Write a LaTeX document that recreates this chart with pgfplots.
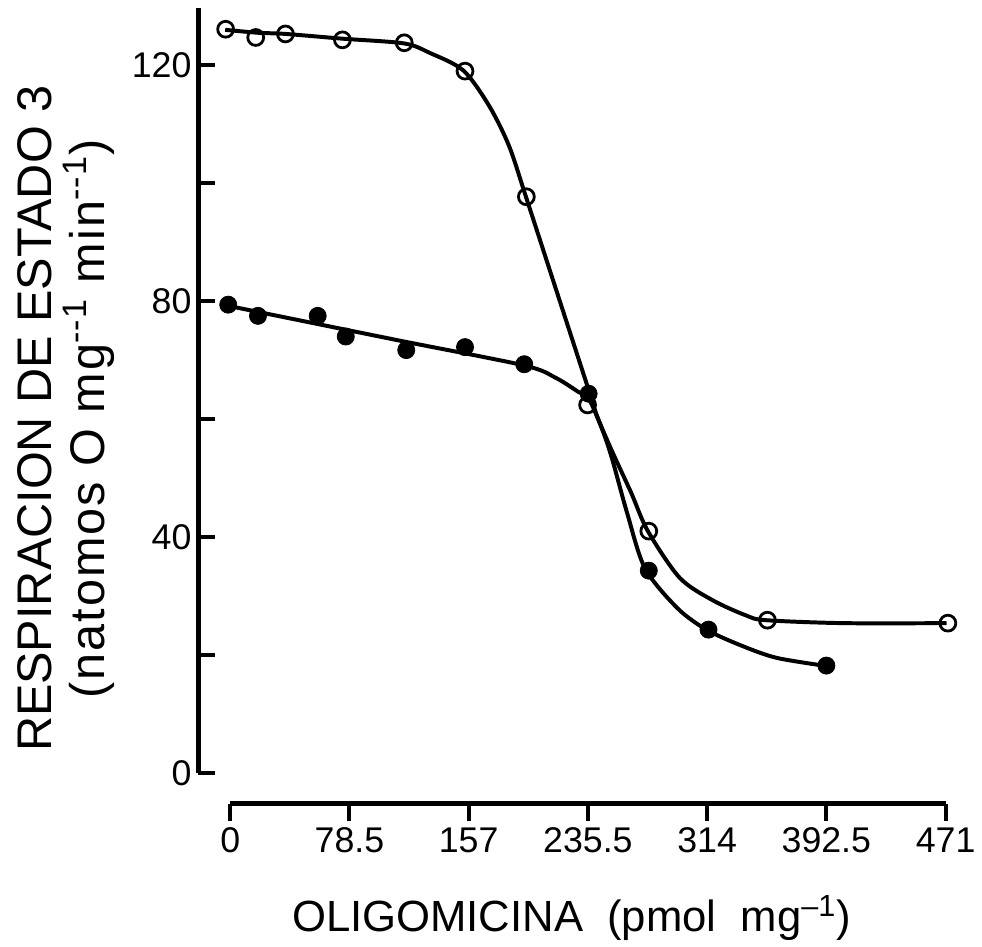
\documentclass[border=0pt]{standalone}
\usepackage{fontspec}
\setmainfont{Liberation Sans}
\usepackage{pgfplots}
\usepackage{pgfplotstable}
\pgfplotsset{compat=1.18}

% measured state-3 respiration, control (open) and treated (filled)
\pgfplotstableread{
x y
-3.0 126.1
16.8 124.7
36.4 125.3
73.9 124.3
114.6 123.8
154.6 119.0
195.0 97.7
235.3 62.4
275.6 41.0
353.7 25.9
472.5 25.4
}\openpts

\pgfplotstableread{
x y
-1.3 79.4
18.3 77.5
57.6 77.5
76.1 74.0
115.9 71.7
154.6 72.2
193.6 69.3
236.0 64.3
275.6 34.3
314.9 24.3
392.5 18.2
}\filledpts

% hand-fitted curves through the two series
\pgfplotstableread{
x y
-3.3 126.0
18.3 125.5
36.6 125.3
73.8 124.5
114.3 123.7
131.3 122.1
153.5 119.1
170.5 113.1
183.6 106.3
194.7 97.7
215.0 81.6
235.8 65.1
241.7 60.4
251.5 54.5
264.0 47.5
275.0 41.0
295.9 33.1
317.5 29.3
339.7 26.7
352.8 25.9
403.7 25.4
471.6 25.4
}\opencurve

\pgfplotstableread{
x y
-1.3 79.2
109.7 73.4
193.4 69.1
214.3 67.0
229.3 64.6
235.8 63.6
245.0 58.2
251.5 53.2
261.3 44.1
273.1 34.7
294.6 27.9
314.2 24.2
338.4 21.4
360.0 19.5
390.7 18.2
}\filledcurve

\newfontfamily\widefont[LetterSpace=4]{Liberation Sans}

\begin{document}
\begin{tikzpicture}
\begin{axis}[
  x=0.7654pt, y=2.972pt,
  xmin=-20.9, xmax=475, ymin=-5.215, ymax=130,
  axis line style={draw=none},
  clip=false,
  xtick pos=lower, ytick pos=left,
  xtick={0,78.5,157,235.5,314,392.5,471},
  xticklabels={0,78.5,157,235.5,314,392.5,471},
  ytick={0,20,40,60,80,100,120},
  yticklabels={0,,40,,80,,120},
  xtick align=outside, ytick align=inside,
  major tick length=8.5pt,
  every tick/.style={line width=2pt, black},
  tick label style={font=\fontsize{18}{18}\selectfont},
  /pgf/number format/assume math mode=true,
  xlabel={OLIGOMICINA\ \ (pmol\ \ mg\textsuperscript{--1})},
  xlabel style={at={(axis description cs:0.4953,-0.1431)}, anchor=center,
    font=\fontsize{22}{22}\selectfont},
  ylabel={RESPIRACION DE ESTADO 3\\{\widefont(natomos O mg\textsuperscript{--1} min\textsuperscript{--1})}},
  ylabel style={at={(axis description cs:-0.176,0.4827)}, anchor=center,
    align=center, font=\fontsize{24.5}{27}\selectfont},
  every axis plot/.append style={black},
]
% separated axis lines
\draw[line width=2.8pt] (axis cs:-20.9,0) -- (axis cs:-20.9,129.7);
\draw[line width=2.4pt] (axis cs:0,-5.215) -- (axis cs:471,-5.215);

\addplot[line width=2pt, smooth, tension=0.5] table {\opencurve};
\addplot[line width=2pt, smooth, tension=0.5] table {\filledcurve};
\addplot[only marks, mark=o, mark size=4pt, mark options={line width=1.4pt}] table {\openpts};
\addplot[only marks, mark=*, mark size=4.3pt] table {\filledpts};
\end{axis}
\path (-100pt,-69pt) rectangle (391pt,405pt);
\end{tikzpicture}
\end{document}
